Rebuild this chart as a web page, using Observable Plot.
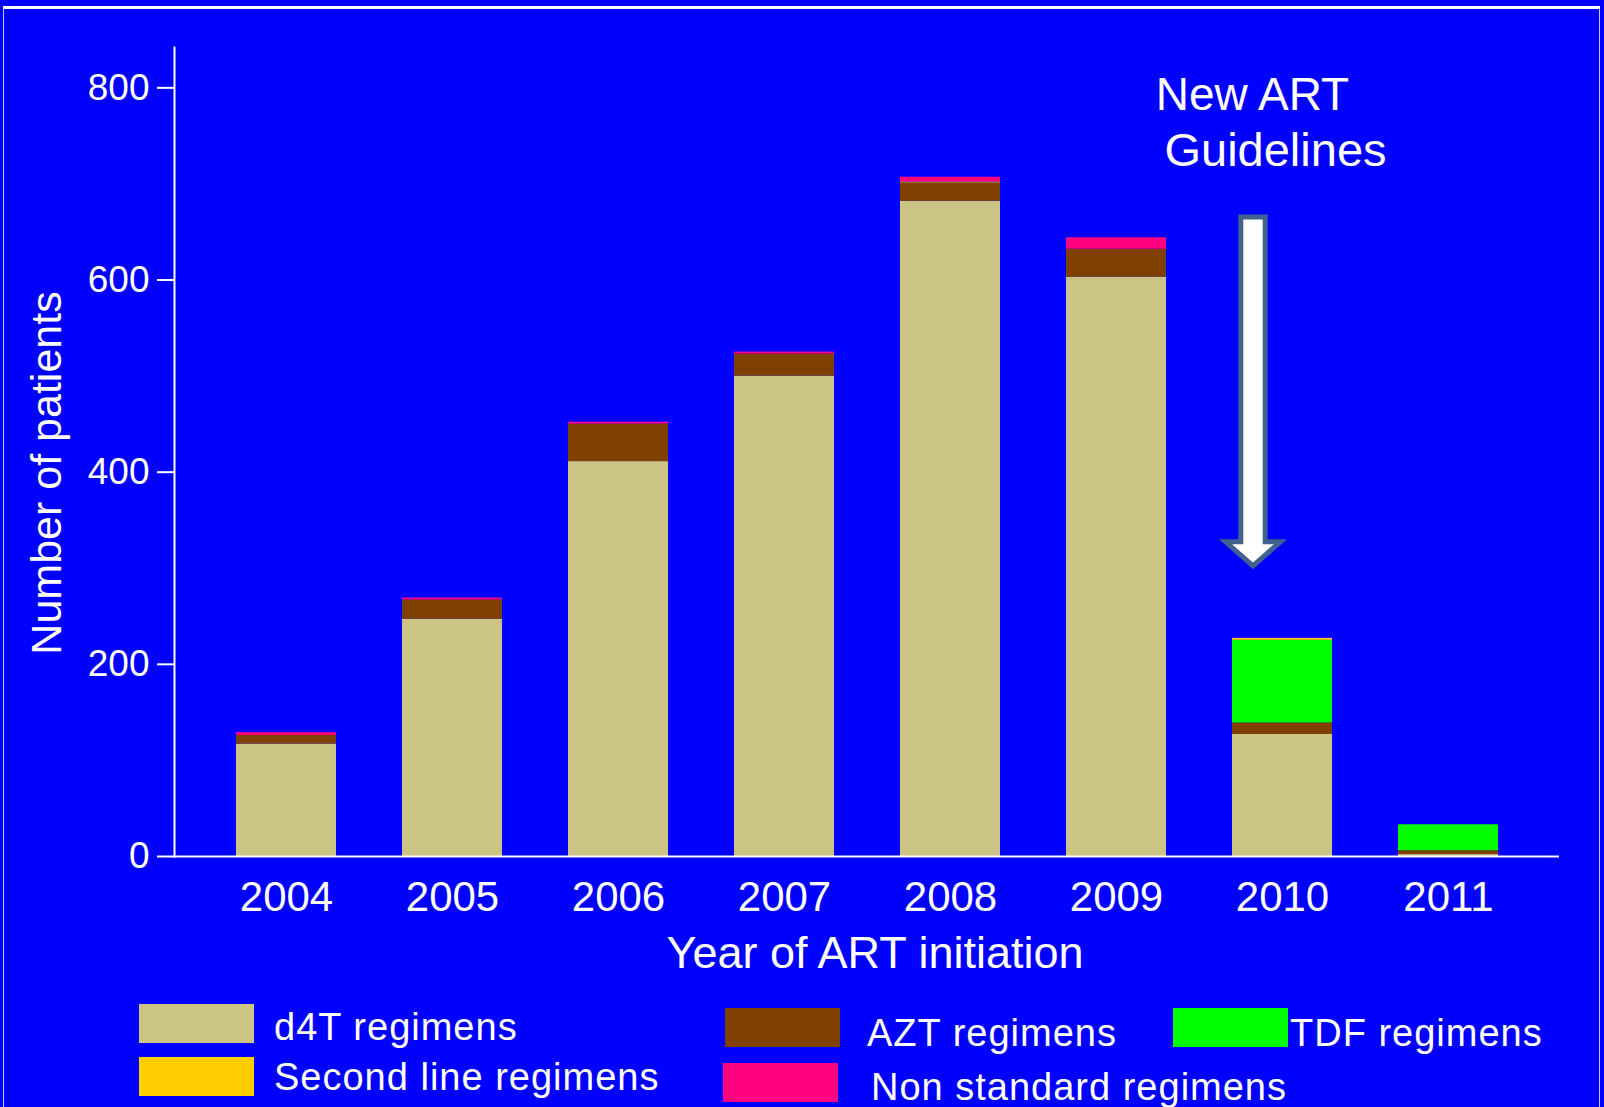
<!DOCTYPE html>
<html>
<head>
<meta charset="utf-8">
<script src="https://cdn.jsdelivr.net/npm/d3@7"></script>
<script src="https://cdn.jsdelivr.net/npm/@observablehq/plot@0.6"></script>
<style>
  html, body { margin: 0; padding: 0; background: #0000FF; }
  #page { position: relative; width: 1604px; height: 1107px; overflow: hidden; background: #0000FF;
          font-family: "Liberation Sans", Arial, sans-serif; color: #fff; }
  #border { position: absolute; left: 3px; top: 6px; right: 4px; height: 1200px;
            border-top: 3px solid #ffffff; border-left: 1px solid #c8c8ff; border-right: 1px solid #c8c8ff; }
  #chart { position: absolute; left: 0; top: 0; }
  .sw { position: absolute; width: 115px; height: 39px; }
  .lb { position: absolute; font-size: 38px; line-height: 38px; letter-spacing: 1px; white-space: nowrap; color: #fff; }
</style>
</head>
<body>
<div id="page">
  <div id="border"></div>
  <div id="chart"></div>
  <div id="legend"></div>
</div>
<script>
// ---------- data ----------
const years = ["2004", "2005", "2006", "2007", "2008", "2009", "2010", "2011"];
const seriesNames = ["d4T regimens", "AZT regimens", "TDF regimens", "Second line regimens", "Non standard regimens"];
const seriesColors = ["#CCC484", "#804000", "#00FF00", "#FFCC00", "#FF0080"];
const d4T        = [117, 247, 411, 500, 682, 603, 127, 2];
const azt        = [9, 20, 39, 23, 19, 29, 12, 4];
const tdf        = [0, 0, 0, 0, 0, 0, 86, 27];
const secondLine = [0, 0, 0, 0, 1, 0, 2, 0];
const nonStd     = [3, 2, 2, 2, 5, 12, 0, 0];
const yTicks = [0, 200, 400, 600, 800];
const yTitle = "Number of patients";
const xTitle = "Year of ART initiation";
const annotYear = "2010";
const annotLabels = ["New ART", "Guidelines"];
const annotValues = [792, 734];
const arrowValues = {top: 665, headBase: 327, tip: 302};

// ---------- build table ----------
const seriesValues = [d4T, azt, tdf, secondLine, nonStd];
const rows = [];
seriesValues.forEach((vals, si) => years.forEach((yr, i) => rows.push({year: yr, series: seriesNames[si], value: vals[i]})));
const annot = annotLabels.map((t, i) => ({year: annotYear, value: annotValues[i], label: t}));

// ---------- layout ----------
const W = 1604, H = 985, ML = 174, MR = 45, MT = 47, MB = 129;

const plot = Plot.plot({
  width: W, height: H,
  marginLeft: ML, marginRight: MR, marginTop: MT, marginBottom: MB,
  style: {background: "transparent", fontFamily: "Liberation Sans, Arial, sans-serif", color: "white", overflow: "visible"},
  x: {domain: years, paddingInner: 0.4, paddingOuter: 0.36, axis: null},
  y: {domain: [0, 842], axis: null},
  color: {domain: seriesNames, range: seriesColors},
  marks: [
    Plot.barY(rows, {x: "year", y: "value", fill: "series", order: seriesNames}),
    Plot.ruleY(yTicks, {y: d => d, stroke: "white", strokeWidth: 2, dx: -17, insetRight: (W - ML - MR) - 17}),
    Plot.ruleY([0], {stroke: "white", strokeWidth: 2}),
    Plot.frame({anchor: "left", stroke: "white", strokeWidth: 2}),
    Plot.text(yTicks, {y: d => d, text: d => String(d), frameAnchor: "left", textAnchor: "end", lineAnchor: "middle", dx: -25, fontSize: 37, fill: "white"}),
    Plot.text(years, {x: d => d, text: d => d, frameAnchor: "bottom", lineAnchor: "middle", dy: 41, fontSize: 42, fill: "white"}),
    Plot.text([yTitle], {text: d => d, frameAnchor: "left", textAnchor: "middle", lineAnchor: "middle", rotate: -90, dx: -127, dy: 21, fontSize: 43, fill: "white"}),
    Plot.text([xTitle], {text: d => d, frameAnchor: "bottom", textAnchor: "middle", lineAnchor: "middle", dx: 8, dy: 97, fontSize: 45, fill: "white"}),
    Plot.text([annot[0]], {x: "year", y: "value", text: "label", lineAnchor: "middle", dx: -30, fontSize: 46, fill: "white"}),
    Plot.text([annot[1]], {x: "year", y: "value", text: "label", lineAnchor: "middle", dx: -7, fontSize: 47, fill: "white"})
  ]
});
document.getElementById("chart").appendChild(plot);

// ---------- block arrow (annotation), positioned through the plot's scales ----------
(function () {
  const sx = plot.scale("x"), sy = plot.scale("y");
  let xStart;
  if (typeof sx.apply === "function") xStart = sx.apply(annotYear);
  else xStart = d3.scaleBand(sx.domain, sx.range).paddingInner(sx.paddingInner).paddingOuter(sx.paddingOuter)(annotYear);
  const bw = sx.bandwidth;
  const yf = typeof sy.apply === "function" ? v => sy.apply(v) : d3.scaleLinear(sy.domain, sy.range);
  const cx = xStart + bw / 2 - 29;
  const yTop = yf(arrowValues.top), yHead = yf(arrowValues.headBase), yTip = yf(arrowValues.tip);
  const sh = 12.2, hh = 27.4;
  const pts = [[cx - sh, yTop], [cx + sh, yTop], [cx + sh, yHead], [cx + hh, yHead], [cx, yTip], [cx - hh, yHead], [cx - sh, yHead]];
  d3.select(plot).append("polygon")
    .attr("points", pts.map(p => p.join(",")).join(" "))
    .attr("fill", "white")
    .attr("stroke", "#41628F")
    .attr("stroke-width", 5)
    .attr("stroke-linejoin", "miter");
})();

// ---------- legend ----------
const legendLayout = [
  {sw: [139, 1004], lb: [274, 1040]},
  {sw: [725, 1008], lb: [867, 1046]},
  {sw: [1173, 1008], lb: [1290, 1046]},
  {sw: [139, 1057], lb: [274, 1090]},
  {sw: [723, 1063], lb: [871, 1100]}
];
const legend = document.getElementById("legend");
seriesNames.forEach((name, i) => {
  const L = legendLayout[i];
  const s = document.createElement("div");
  s.className = "sw";
  s.style.left = L.sw[0] + "px"; s.style.top = L.sw[1] + "px";
  s.style.background = seriesColors[i];
  legend.appendChild(s);
  const t = document.createElement("div");
  t.className = "lb";
  t.style.left = L.lb[0] + "px"; t.style.top = (L.lb[1] - 32) + "px";
  t.textContent = name;
  legend.appendChild(t);
});
</script>
</body>
</html>
